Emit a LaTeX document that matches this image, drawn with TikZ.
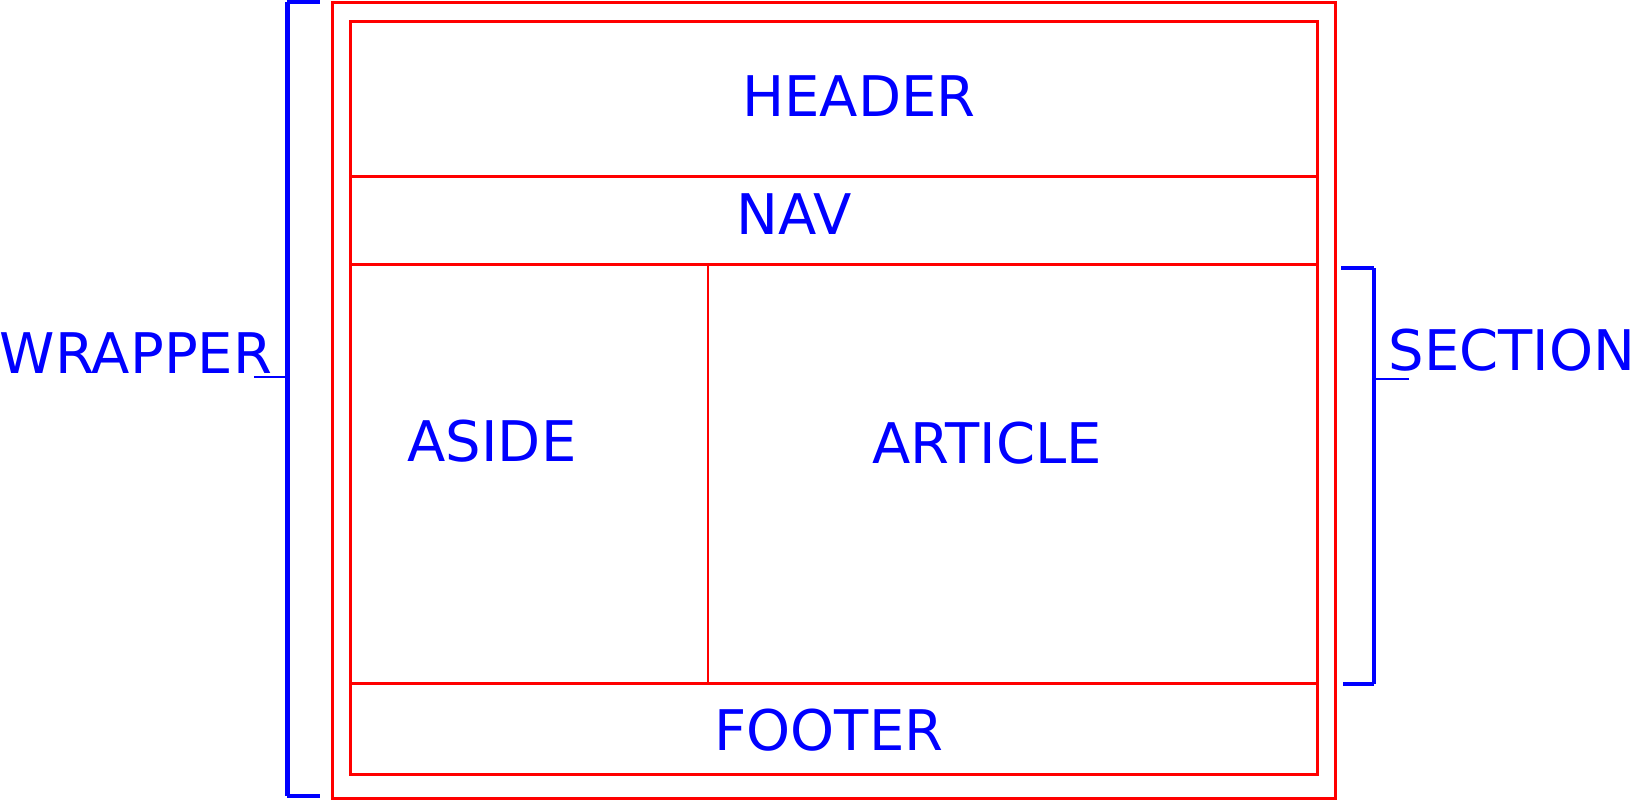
\documentclass[tikz,border=0pt]{standalone}
\usepackage{fontspec}
\setmainfont{DejaVu Sans}
\usetikzlibrary{positioning}

\begin{document}
\begin{tikzpicture}[
  x=0.5pt, y=-0.5pt,
  font=\fontsize{28}{32}\selectfont,
  frame/.style={draw=red, line width=1.5pt},
  divider/.style={draw=red, line width=1pt},
  bracebar/.style={draw=blue, line width=2.5pt},
  bracetick/.style={draw=blue, line width=1.6pt},
  lbl/.style={text=blue, inner sep=0pt, anchor=base}
]
\useasboundingbox (0,0) rectangle (1638,800);

% --- Wrapper and inner layout boxes ---
\draw[frame] (332,2) rectangle (1335,798);
\draw[frame] (350,21) rectangle (1317,774);
\draw[frame] (350,176) -- (1317,176);
\draw[frame] (350,264) -- (1317,264);
\draw[frame] (350,683) -- (1317,683);
\draw[divider] (708,264) -- (708,683);

% --- Box labels ---
\node[lbl] (header) at (859,116) {HEADER};
\node[lbl] (nav) at (794,234) {NAV};
\node[lbl] (aside) at (492,461) {ASIDE};
\node[lbl] (article) at (987,463) {ARTICLE};
\node[lbl] (footer) at (829,750) {FOOTER};

% --- Wrapper bracket ---
\coordinate (wtop) at (287,2);
\coordinate (wbot) at (287,796);
\coordinate (wmid) at (287,377);
\draw[bracebar] (wtop) -- (wbot);
\draw[bracetick] (wtop) -- ++(33,0);
\draw[bracetick] (wbot) -- ++(33,0);
\node[lbl] (wrapper) at (136,373) {WRAPPER};
\draw[blue, line width=1.2pt] (wmid) -- ++(-33,0);

% --- Section bracket ---
\coordinate (stop) at (1374,268);
\coordinate (sbot) at (1374,684);
\coordinate (smid) at (1374,379);
\draw[bracetick] (stop) -- (sbot);
\draw[bracetick] (stop) -- ++(-33,0);
\draw[bracetick] (sbot) -- ++(-31,0);
\draw[blue, line width=1.2pt] (smid) -- ++(35,0);
\node[lbl] (section) at (1512,370) {SECTION};

\end{tikzpicture}
\end{document}
